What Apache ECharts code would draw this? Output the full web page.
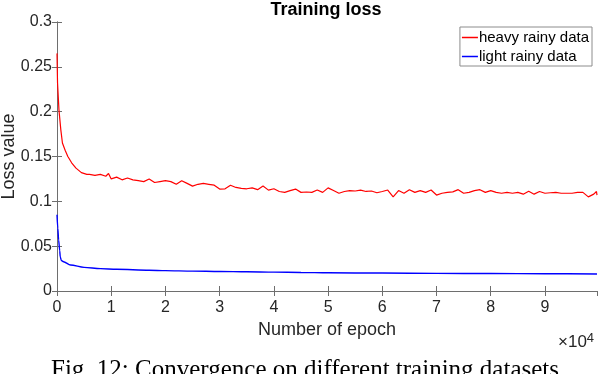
<!DOCTYPE html>
<html>
<head>
<meta charset="utf-8">
<script src="https://cdn.jsdelivr.net/npm/echarts@6/dist/echarts.min.js"></script>
<style>
  html, body { margin: 0; padding: 0; background: #fff; }
  #c1 { width: 598px; height: 374px; }
</style>
</head>
<body>
<div id="c1"></div>
<script>
// epochs and loss values
var heavyEpochs = [0, 100, 360, 700, 1000, 1500, 2000, 2700, 3500, 4500, 5500, 6000, 7000, 8000, 9000, 9500,
  10000, 11000, 12000, 13000, 14000, 15000, 16000, 17000, 18000, 19000,
  20000, 21000, 22000, 23000, 24000, 25000, 26000, 27000, 28000, 29000,
  30000, 31000, 32000, 33000, 34000, 35000, 36000, 37000, 38000, 39000,
  40000, 41000, 42000, 43000, 44000, 45000, 46000, 47000, 48000, 49000,
  50000, 51000, 52000, 53000, 54000, 55000, 56000, 57000, 58000, 59000,
  60000, 61000, 62000, 63000, 64000, 65000, 66000, 67000, 68000, 69000,
  70000, 71000, 72000, 73000, 74000, 75000, 76000, 77000, 78000, 79000,
  80000, 81000, 82000, 83000, 84000, 85000, 86000, 87000, 88000, 89000,
  90000, 91000, 92000, 93000, 94000, 95000, 96000, 97000, 98000, 99000, 99500, 99600];
var heavyLoss = [0.265, 0.232, 0.202, 0.180, 0.165, 0.157, 0.150, 0.143, 0.137, 0.132, 0.130, 0.130, 0.129, 0.130, 0.128, 0.131,
  0.125, 0.127, 0.124, 0.126, 0.124, 0.123, 0.122, 0.125, 0.121, 0.122,
  0.123, 0.122, 0.119, 0.123, 0.120, 0.117, 0.119, 0.120, 0.119, 0.118,
  0.1137, 0.114, 0.118, 0.1155, 0.1145, 0.114, 0.115, 0.113, 0.117, 0.1125,
  0.114, 0.111, 0.110, 0.112, 0.1137, 0.110, 0.1104, 0.110, 0.1126, 0.110,
  0.115, 0.112, 0.109, 0.111, 0.112, 0.1115, 0.1125, 0.111, 0.1115, 0.1096,
  0.111, 0.1126, 0.105, 0.112, 0.109, 0.113, 0.110, 0.112, 0.110, 0.1126,
  0.107, 0.109, 0.110, 0.1105, 0.113, 0.109, 0.110, 0.112, 0.113, 0.110,
  0.112, 0.110, 0.109, 0.110, 0.109, 0.110, 0.108, 0.1113, 0.108, 0.111,
  0.109, 0.1096, 0.110, 0.109, 0.109, 0.109, 0.110, 0.110, 0.105, 0.108, 0.111, 0.107];

var lightEpochs = [0, 150, 300, 500, 600, 800, 1200, 2500, 5000, 8000, 11000, 17000, 20000, 25000, 30000,
  35000, 40000, 45000, 50000, 60000, 70000, 80000, 90000, 99600];
var lightLoss = [0.085, 0.070, 0.057, 0.045, 0.038, 0.034, 0.0327, 0.029, 0.0264, 0.0249, 0.0242, 0.0231, 0.0227, 0.0222, 0.0218,
  0.0214, 0.021, 0.0207, 0.0203, 0.0200, 0.0197, 0.0195, 0.0193, 0.019];

var seriesNames = ["heavy rainy data", "light rainy data"];
var xTicks = ["0", "1", "2", "3", "4", "5", "6", "7", "8", "9"];

function pairs(xs, ys) {
  var res = [];
  for (var i = 0; i < xs.length; i++) {
    res.push([xs[i], ys[i]]);
  }
  return res;
}

var chartDom = document.getElementById("c1");
var myChart = echarts.init(chartDom);

var axisColor = "#6e6e6e";
var textColor = "#262626";
var font = "Liberation Sans, Arial, Helvetica, sans-serif";

var option = {
  animation: false,
  title: [
    {
      text: "Training loss",
      left: 321,
      top: -4,
      textAlign: "center",
      textStyle: { fontFamily: font, fontSize: 18, fontWeight: "bold", color: "#000" },
    },
    {
      text: "Fig. 12: Convergence on different training datasets.",
      left: 46,
      top: 353,
      textStyle: { fontFamily: "Liberation Serif, Times New Roman, serif", fontSize: 25, fontWeight: "normal", color: "#000" },
    },
  ],
  legend: {
    orient: "vertical",
    right: 6,
    top: 27,
    data: seriesNames,
    icon: "rect",
    itemWidth: 16,
    itemHeight: 1.5,
    itemGap: 4,
    padding: [3, 3, 2, 2],
    backgroundColor: "#fff",
    borderColor: "#8c8c8c",
    borderWidth: 1,
    textStyle: { fontFamily: font, fontSize: 15, color: "#000", padding: [0, 0, 0, -4] },
  },
  grid: { left: 57, right: 1, top: 22, bottom: 83, outerBoundsMode: "none" },
  xAxis: [
    {
      type: "value",
      min: 0,
      max: 99600,
      interval: 10000,
      name: "Number of epoch",
      nameLocation: "middle",
      nameGap: 30,
      nameMoveOverlap: false,
      nameTextStyle: { fontFamily: font, fontSize: 18, color: textColor },
      axisLine: { lineStyle: { color: axisColor, width: 1 } },
      axisTick: { inside: true, length: 5, lineStyle: { color: axisColor } },
      axisLabel: {
        fontFamily: font,
        fontSize: 16,
        color: textColor,
        margin: 9,
        showMaxLabel: false,
        formatter: function (v) {
          return v % 10000 === 0 ? xTicks[v / 10000] : "";
        },
      },
      splitLine: { show: false },
    },
    {
      type: "value",
      position: "top",
      min: 0,
      max: 99600,
      interval: 10000,
      axisLine: { lineStyle: { color: axisColor, width: 1 } },
      axisTick: { inside: true, length: 5, lineStyle: { color: axisColor } },
      axisLabel: { show: false },
      splitLine: { show: false },
    },
  ],
  yAxis: [
    {
      type: "value",
      min: 0,
      max: 0.3,
      interval: 0.05,
      name: "Loss value",
      nameLocation: "middle",
      nameGap: 39,
      nameMoveOverlap: false,
      nameTextStyle: { fontFamily: font, fontSize: 18, color: textColor },
      axisLine: { show: true, lineStyle: { color: axisColor, width: 1 } },
      axisTick: { show: true, inside: true, length: 5, lineStyle: { color: axisColor } },
      axisLabel: { fontFamily: font, fontSize: 16, color: textColor, margin: 5 },
      splitLine: { show: false },
    },
    {
      type: "value",
      position: "right",
      min: 0,
      max: 0.3,
      interval: 0.05,
      axisLine: { show: true, lineStyle: { color: axisColor, width: 1 } },
      axisTick: { show: true, inside: true, length: 5, lineStyle: { color: axisColor } },
      axisLabel: { show: false },
      splitLine: { show: false },
    },
  ],
  graphic: [
    {
      type: "text",
      left: 558,
      top: 332,
      style: {
        text: "×10{s|4}",
        rich: { s: { fontSize: 13, verticalAlign: "top", padding: [0, 0, 8, 0] } },
        fontFamily: font,
        fontSize: 17,
        fill: textColor,
      },
    },
  ],
  series: [
    {
      name: seriesNames[0],
      type: "line",
      xAxisIndex: 0,
      yAxisIndex: 0,
      symbol: "none",
      lineStyle: { color: "#ff0000", width: 1.2 },
      itemStyle: { color: "#ff0000" },
      data: pairs(heavyEpochs, heavyLoss),
    },
    {
      name: seriesNames[1],
      type: "line",
      xAxisIndex: 0,
      yAxisIndex: 0,
      symbol: "none",
      smooth: 0.3,
      smoothMonotone: "x",
      lineStyle: { color: "#0000ff", width: 1.4 },
      itemStyle: { color: "#0000ff" },
      data: pairs(lightEpochs, lightLoss),
    },
  ],
};

myChart.setOption(option);
</script>
</body>
</html>
